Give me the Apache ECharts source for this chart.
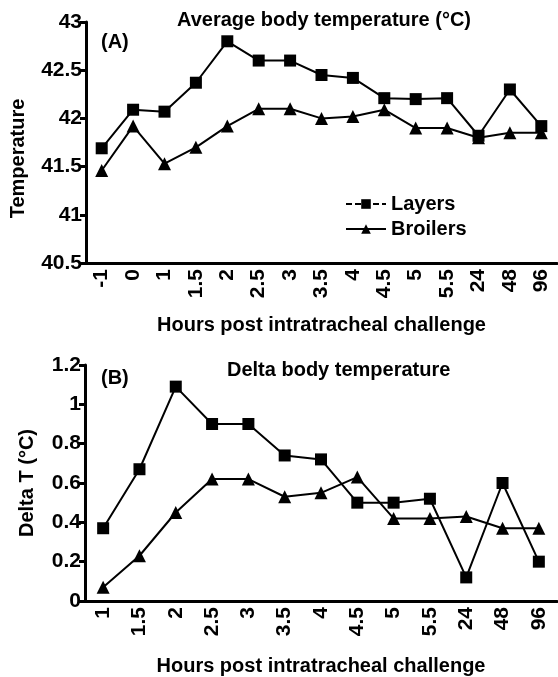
<!DOCTYPE html>
<html>
<head>
<meta charset="utf-8">
<script src="https://cdn.jsdelivr.net/npm/echarts@6/dist/echarts.min.js"></script>
<style>
  html, body { margin: 0; padding: 0; background: #fff; }
  #main { width: 558px; height: 677px; }
</style>
</head>
<body>
<div id="main"></div>
<script>
// panel A: average body temperature
var hoursA = ['-1', '0', '1', '1.5', '2', '2.5', '3', '3.5', '4', '4.5', '5', '5.5', '24', '48', '96']
var layersA = [41.69, 42.09, 42.07, 42.37, 42.8, 42.6, 42.6, 42.45, 42.42, 42.21, 42.2, 42.21, 41.82, 42.3, 41.92]
var broilersA = [41.46, 41.92, 41.53, 41.7, 41.92, 42.1, 42.1, 42.0, 42.02, 42.09, 41.9, 41.9, 41.8, 41.85, 41.85]

// panel B: delta body temperature
var hoursB = ['1', '1.5', '2', '2.5', '3', '3.5', '4', '4.5', '5', '5.5', '24', '48', '96']
var layersB = [0.37, 0.67, 1.09, 0.9, 0.9, 0.74, 0.72, 0.5, 0.5, 0.52, 0.12, 0.6, 0.2]
var broilersB = [0.07, 0.23, 0.45, 0.62, 0.62, 0.53, 0.55, 0.63, 0.42, 0.42, 0.43, 0.37, 0.37]

var font = 'Liberation Sans, Arial, sans-serif'
var txt = { color: '#000', fontFamily: font, fontSize: 20, fontWeight: 'bold' }
var tickTxt = { color: '#000', fontFamily: font, fontSize: 21, fontWeight: 'bold' }

function xAx(idx, data, gap) {
  return {
    type: 'category', gridIndex: idx, data: data,
    name: 'Hours post intratracheal challenge',
    nameLocation: 'middle', nameGap: gap,
    nameTextStyle: txt,
    axisLine: { lineStyle: { color: '#000', width: 3 } },
    axisTick: { length: 6, lineStyle: { color: '#000', width: 3 } },
    axisLabel: Object.assign({ rotate: 90, margin: 6, interval: 0 }, tickTxt)
  }
}

function yAx(idx, min, max, step, name, gap, pad) {
  return {
    type: 'value', gridIndex: idx, min: min, max: max, interval: step,
    name: name, nameLocation: 'middle', nameGap: gap,
    nameTextStyle: Object.assign({ padding: pad }, txt),
    splitLine: { show: false },
    axisLine: { show: true, lineStyle: { color: '#000', width: 3 } },
    axisTick: { show: true, length: 6, lineStyle: { color: '#000', width: 3 } },
    axisLabel: Object.assign({ margin: 4 }, tickTxt)
  }
}

function line(name, idx, data, sym, size) {
  return {
    name: name, type: 'line', xAxisIndex: idx, yAxisIndex: idx, data: data,
    symbol: sym, symbolSize: size,
    itemStyle: { color: '#000' },
    lineStyle: { color: '#000', width: 2 }
  }
}

var chart = echarts.init(document.getElementById('main'))
chart.setOption({
  backgroundColor: '#fff',
  animation: false,
  title: [
    { text: 'Average body temperature (°C)', left: 172, top: 5, textStyle: txt },
    { text: '(A)', left: 96, top: 27, textStyle: txt },
    { text: 'Delta body temperature', left: 222, top: 355, textStyle: txt },
    { text: '(B)', left: 96, top: 363, textStyle: txt }
  ],
  legend: {
    data: [
      { name: 'Layers', lineStyle: { type: [6, 3] } },
      { name: 'Broilers' }
    ],
    orient: 'vertical', left: 340, top: 189,
    itemWidth: 40, itemHeight: 12, itemGap: 5,
    textStyle: txt
  },
  grid: [
    { left: 85, right: 1, top: 22, height: 241 },
    { left: 85, right: 1, top: 365, height: 238 }
  ],
  xAxis: [xAx(0, hoursA, 52), xAx(1, hoursB, 55)],
  yAxis: [
    yAx(0, 40.5, 43, 0.5, 'Temperature', 58, [0, 32, 0, 0]),
    yAx(1, 0, 1.2, 0.2, 'Delta T (°C)', 48, [0, 0, 0, 0])
  ],
  series: [
    line('Layers', 0, layersA, 'rect', 12),
    line('Broilers', 0, broilersA, 'triangle', 13),
    line('Layers', 1, layersB, 'rect', 12),
    line('Broilers', 1, broilersB, 'triangle', 13)
  ]
})
</script>
</body>
</html>
